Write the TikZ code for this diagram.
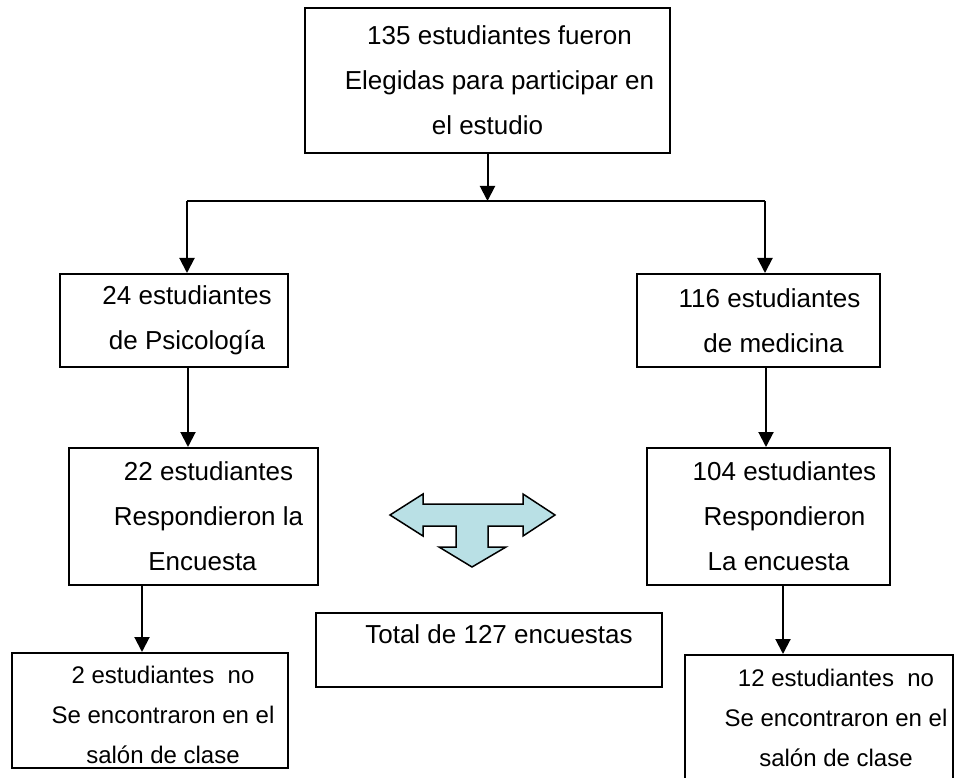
\documentclass[tikz,border=0pt]{standalone}
\usepackage{fontspec}
\setmainfont{Liberation Sans}
\usetikzlibrary{arrows.meta,positioning}

\definecolor{tcyan}{RGB}{185,224,229}

\begin{document}
\begin{tikzpicture}[x=1pt,y=-1pt,
    box/.style={draw, line width=2pt, align=center, inner sep=0pt,
      font=\fontsize{26}{45}\selectfont},
    smallbox/.style={box, font=\fontsize{24}{40}\selectfont},
    flow/.style={line width=2pt, -{Triangle[length=15pt,width=15pt]}}]
    \useasboundingbox (0,0) rectangle (964,778);
    \node[box, minimum width=365pt, minimum height=145pt] (elegidas) at (487.5,80.5)
      {\hspace*{24pt}135 estudiantes fueron\\\hspace*{24pt}Elegidas para participar en\\el estudio};
    \node[box, minimum width=228pt, minimum height=93pt] (psico) at (174,320.5)
      {\hspace*{26pt}24 estudiantes\\\hspace*{26pt}de Psicología};
    \node[box, minimum width=243pt, minimum height=93pt] (medicina) at (758.5,320.5)
      {\hspace*{22pt}116 estudiantes\\\hspace*{30pt}de medicina};
    \node[box, minimum width=249pt, minimum height=137pt] (resppsico) at (193.5,516.5)
      {\hspace*{30pt}22 estudiantes\\\hspace*{30pt}Respondieron la\\\hspace*{18pt}Encuesta};
    \node[box, minimum width=243pt, minimum height=137pt] (respmed) at (768.5,516.5)
      {\hspace*{32pt}104 estudiantes\\\hspace*{32pt}Respondieron\\\hspace*{20pt}La encuesta};
    \node[box, minimum width=346pt, text height=30pt, text depth=44pt] (total) at (489,650)
      {\hspace*{20pt}Total de 127 encuestas};
    \node[smallbox, minimum width=276pt, minimum height=115pt] (nopsico) at (150,710.5)
      {\rule{0pt}{27pt}\hspace*{26pt}2 estudiantes\ \ no\\\hspace*{26pt}Se encontraron en el\\\hspace*{26pt}salón de clase};
    \node[smallbox, minimum width=268pt, minimum height=126pt] (nomed) at (819,718)
      {\hspace*{34pt}12 estudiantes\ \ no\\\hspace*{34pt}Se encontraron en el\\\hspace*{34pt}salón de clase};

    % reparto en dos ramas
    \coordinate (split) at (elegidas.south |- 0,201);
    \coordinate (splitL) at (187,201);
    \coordinate (splitR) at (765,201);
    \draw[flow] (elegidas) -- (split);
    \draw[line width=2pt] (splitL) -- (splitR);
    \draw[flow] (splitL) -- (splitL |- psico.north);
    \draw[flow] (splitR) -- (splitR |- medicina.north);
    \draw[flow] ([xshift=14pt]psico.south) -- ([xshift=14pt]psico.south |- resppsico.north);
    \draw[flow] ([xshift=7.5pt]medicina.south) -- ([xshift=7.5pt]medicina.south |- respmed.north);
    \draw[flow] ([xshift=-51.5pt]resppsico.south) -- ([xshift=-51.5pt]resppsico.south |- nopsico.north);
    \draw[flow] ([xshift=14.5pt]respmed.south) -- ([xshift=14.5pt]respmed.south |- nomed.north);

    % flecha en T
    \draw[line width=1.5pt, fill=tcyan, line join=miter]
      (390,515) -- (423,494) -- (423,504) -- (523,504) -- (523,494) -- (555,515)
      -- (523,536) -- (523,526) -- (488,526) -- (488,547) -- (506,547) -- (472,567)
      -- (439,547) -- (456,547) -- (456,526) -- (423,526) -- (423,536) -- cycle;
\end{tikzpicture}
\end{document}
